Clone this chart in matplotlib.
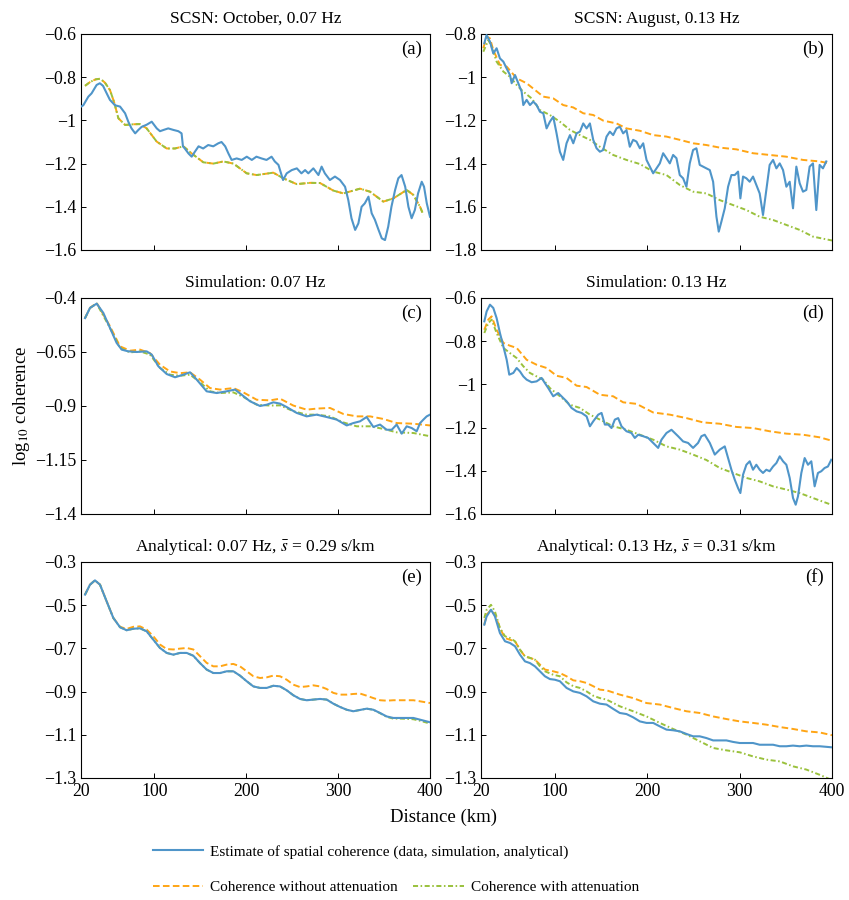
import numpy as np
import matplotlib
matplotlib.use('Agg')
import matplotlib.pyplot as plt
from matplotlib.lines import Line2D
from matplotlib.ticker import FuncFormatter

plt.rcParams['font.family'] = ['Liberation Serif', 'DejaVu Serif']
plt.rcParams['mathtext.fontset'] = 'stix'
plt.rcParams['font.size'] = 11

BLUE = '#4f95c9'
ORANGE = '#ffa514'
GREEN = '#9ac13c'

# ---- (a) SCSN October 0.07 Hz
a_km = [20, 22.5, 28, 31.5, 37, 40.5, 44, 48, 51.5, 57, 62.5, 68, 71.5, 75, 79, 82.5, 86, 91.5, 97, 102.5,
        106, 110, 115, 120.5, 126, 129.5, 131, 133, 137, 140.5, 144, 148, 153, 158.5, 164, 169.5, 173, 177, 180.5, 184,
        189.5, 195, 200.5, 206, 211, 216.5, 222, 227.5, 231, 235, 240, 244, 249.5, 255, 260, 264, 267.5, 273, 278.5, 282,
        285.5, 291, 296.5, 302, 307.5, 311, 314.5, 318.5, 322, 325.5, 329, 333, 336.5, 340, 344, 347.5, 351, 354.5, 358, 362,
        365.5, 369, 373, 376.5, 380, 383.5, 387, 391, 393.5, 396.5, 400]
a_est = [-0.936, -0.93, -0.89, -0.875, -0.836, -0.828, -0.84, -0.875, -0.905, -0.93,
         -0.936, -0.967, -1.006, -1.037, -1.06, -1.044, -1.03, -1.02, -1.006, -1.037,
         -1.05, -1.044, -1.037, -1.044, -1.05, -1.06, -1.12, -1.13, -1.153, -1.168,
         -1.145, -1.12, -1.13, -1.114, -1.12, -1.106, -1.10, -1.12, -1.153, -1.183,
         -1.176, -1.183, -1.168, -1.183, -1.168, -1.176, -1.183, -1.168, -1.19, -1.206,
         -1.276, -1.245, -1.23, -1.222, -1.245, -1.23, -1.245, -1.222, -1.253, -1.214,
         -1.245, -1.276, -1.26, -1.276, -1.307, -1.368, -1.453, -1.507, -1.477, -1.40,
         -1.384, -1.353, -1.43, -1.46, -1.507, -1.546, -1.554, -1.492, -1.40, -1.322,
         -1.268, -1.253, -1.307, -1.40, -1.453, -1.415, -1.338, -1.284, -1.307, -1.384, -1.446]
# both model curves coincide in (a)
a_mkm = [24.4, 30, 36, 41, 46, 51.6, 56, 60.7, 68, 77, 84.2, 91.5, 102.4, 113.3, 122.4, 131.4, 140.5, 153.2, 164.1, 175,
         186, 200.4, 211.3, 229.4, 240.3, 254.8, 269.4, 280.3, 294.8, 305.7, 323.8, 334.7, 349.2, 360.1, 374.6, 381.9, 389.2, 392.8]
a_model = [-0.84, -0.822, -0.81, -0.807, -0.825, -0.86, -0.915, -0.99, -1.021, -1.018, -1.017, -1.037, -1.098, -1.13, -1.13, -1.12, -1.153, -1.194, -1.20, -1.19,
           -1.20, -1.245, -1.253, -1.242, -1.268, -1.295, -1.289, -1.29, -1.325, -1.338, -1.316, -1.33, -1.376, -1.361, -1.322, -1.345, -1.40, -1.438]

# ---- (b) SCSN August 0.13 Hz
b_km = [23.6, 26, 29.7, 33.3, 36.9, 40.5, 44.2, 47.8, 51.4, 53.2, 56.8, 60.4, 64, 65.8, 69.4, 73, 76.6, 80.2, 83.8, 87.4,
        91, 94.6, 98.2, 101.8, 105.4, 109, 112.6, 116.3, 119.9, 123.5, 127.1, 130.7, 134.3, 137.9, 141.5, 145.1, 148.7, 152.3, 155.9, 159.5,
        163.1, 166.7, 170.3, 173.9, 177.5, 181.1, 184.7, 188.3, 192, 195.6, 199.2, 202.8, 206.4, 210, 213.6, 217.2, 220.8, 224.4, 228, 231.6,
        235.2, 238.8, 242.4, 246, 249.6, 253.2, 256.8, 260.4, 264, 267.7, 271.3, 274.9, 277.4, 280.3, 283.9, 287.5, 291.1, 294.7, 298.3, 300.8,
        303.7, 307.3, 310.9, 314.5, 318.1, 321.7, 325.3, 328.9, 332.5, 336.2, 339.8, 343.4, 347, 350.6, 354.2, 357.8, 361.4, 365, 368.6, 372.2,
        375.8, 379.4, 383, 386.6, 390.2, 393.8]
b_est = [-0.843, -0.805, -0.835, -0.89, -0.866, -0.913, -0.928, -0.96, -0.99, -1.028,
         -0.99, -1.028, -1.067, -1.129, -1.105, -1.129, -1.113, -1.129, -1.16, -1.167,
         -1.237, -1.206, -1.183, -1.26, -1.345, -1.383, -1.306, -1.268, -1.306, -1.26,
         -1.252, -1.214, -1.237, -1.214, -1.29, -1.329, -1.345, -1.337, -1.275, -1.252,
         -1.268, -1.237, -1.229, -1.26, -1.245, -1.322, -1.29, -1.298, -1.329, -1.306,
         -1.383, -1.414, -1.445, -1.422, -1.399, -1.352, -1.375, -1.399, -1.36, -1.375,
         -1.453, -1.468, -1.507, -1.399, -1.337, -1.329, -1.406, -1.414, -1.422, -1.43,
         -1.484, -1.646, -1.715, -1.668, -1.607, -1.507, -1.453, -1.453, -1.437, -1.561,
         -1.46, -1.468, -1.484, -1.46, -1.499, -1.538, -1.638, -1.522, -1.406, -1.383,
         -1.422, -1.399, -1.43, -1.507, -1.484, -1.607, -1.414, -1.491, -1.53, -1.522,
         -1.414, -1.399, -1.615, -1.406, -1.422, -1.39]
b_okm = [22.5, 26.1, 29.7, 33.3, 40.5, 47.8, 58.6, 69.4, 78.4, 87.4, 98.2, 109, 119.9, 130.7, 141.5, 152.3, 166.7, 177.5, 192, 206.4,
         220.8, 235.2, 249.6, 264, 278.5, 296.5, 314.5, 332.5, 350.6, 368.6, 386.6, 397.4]
b_noatt = [-0.866, -0.812, -0.82, -0.874, -0.943, -0.951, -1.005, -1.028, -1.059, -1.09, -1.098, -1.129, -1.14, -1.167, -1.175, -1.201, -1.214, -1.237, -1.248, -1.268,
           -1.275, -1.29, -1.306, -1.314, -1.326, -1.334, -1.352, -1.36, -1.368, -1.383, -1.39, -1.399]
b_gkm = [22.5, 28, 31.5, 36.9, 44.2, 51.4, 58.6, 65.8, 74.8, 83.8, 94.6, 105.4, 116.3, 127.1, 137.9, 148.7, 163.1, 177.5, 192, 206.4,
         220.8, 235.2, 249.6, 264, 278.5, 292.9, 307.3, 321.7, 336.2, 350.6, 365, 379.4, 400]
b_att = [-0.882, -0.828, -0.859, -0.928, -0.974, -0.998, -1.036, -1.067, -1.098, -1.152, -1.175, -1.206, -1.244, -1.268, -1.29, -1.322, -1.36, -1.383, -1.402, -1.437,
         -1.453, -1.499, -1.53, -1.538, -1.569, -1.592, -1.615, -1.646, -1.661, -1.684, -1.707, -1.738, -1.756]

# ---- (c) simulation 0.07 Hz
c_km = [24.4, 29.8, 37.1, 44.3, 51.6, 58.8, 64.3, 71.5, 80.6, 91.5, 97, 104.2, 113.3, 122.4, 131.4, 138.7, 146, 156.8, 167.7, 178.6,
        187.7, 195, 204, 214.9, 222.2, 229.4, 236.7, 244, 254.8, 265.7, 276.6, 287.5, 298.4, 309.3, 316.5, 323.8, 331, 338.3, 345.6, 352.8,
        358.3, 363.7, 369.2, 374.6, 380.1, 385.5, 389.2, 392.8, 396.4, 400]
c_est = [-0.493, -0.446, -0.426, -0.469, -0.539, -0.608, -0.639, -0.647, -0.65, -0.647,
         -0.662, -0.716, -0.752, -0.767, -0.755, -0.744, -0.778, -0.832, -0.84, -0.832,
         -0.824, -0.848, -0.878, -0.90, -0.894, -0.883, -0.889, -0.905, -0.932, -0.948,
         -0.94, -0.951, -0.963, -0.99, -0.979, -0.971, -0.951, -0.997, -0.986, -1.01,
         -1.01, -0.986, -1.028, -0.994, -1.002, -1.017, -0.979, -0.963, -0.948, -0.94]
c_mkm = [24.4, 29.8, 37.1, 51.6, 62.5, 73.4, 84.2, 95.1, 106, 116.9, 127.8, 138.7, 149.6, 160.5, 171.4, 185.9, 196.8, 211.3, 225.8, 236.7,
         251.2, 265.7, 276.6, 291.1, 305.7, 320.2, 334.7, 349.2, 363.7, 381.9, 400]
c_noatt = [-0.493, -0.446, -0.423, -0.531, -0.624, -0.644, -0.639, -0.655, -0.709, -0.74, -0.748, -0.744, -0.778, -0.817, -0.824, -0.817, -0.837, -0.871, -0.874, -0.866,
           -0.898, -0.917, -0.912, -0.909, -0.937, -0.948, -0.948, -0.96, -0.979, -0.982, -0.99]
c_att = [-0.493, -0.446, -0.426, -0.539, -0.631, -0.652, -0.647, -0.662, -0.724, -0.755, -0.76, -0.755, -0.79, -0.832, -0.84, -0.837, -0.858, -0.894, -0.898, -0.897,
         -0.924, -0.94, -0.94, -0.948, -0.976, -0.994, -0.994, -1.006, -1.022, -1.025, -1.04]

# ---- (d) simulation 0.13 Hz
d_km = [23.6, 26.1, 29.7, 33.3, 36.9, 40.5, 44.2, 47.8, 50.6, 55, 58.6, 62.2, 65.8, 69.4, 74.8, 80.2, 85.6, 89.2, 92.8, 98.2,
        103.6, 109, 112.6, 118, 123.5, 128.9, 134.3, 137.9, 141.5, 146.9, 150.5, 154.1, 157.7, 161.3, 164.9, 168.5, 172.1, 177.5, 182.9, 186.5,
        190.2, 195.6, 201, 206.4, 211.8, 215.4, 220.8, 226.2, 229.8, 233.4, 238.8, 244.2, 249.6, 255, 258.6, 262.2, 267.7, 273.1, 278.5, 283.9,
        287.5, 291.1, 294.7, 298.3, 300.8, 303.7, 307.3, 310.9, 314.5, 318.1, 321.7, 325.3, 328.9, 332.5, 336.2, 339.8, 343.4, 347, 350.6, 354.2,
        357.8, 360.7, 363.2, 366.8, 370.4, 374, 377.6, 381.2, 384.8, 388.4, 392, 395.6, 399.2]
d_est = [-0.708, -0.662, -0.631, -0.646, -0.693, -0.762, -0.824, -0.886, -0.955, -0.947,
         -0.924, -0.94, -0.963, -0.978, -0.99, -0.986, -0.97, -0.994, -1.017, -1.055,
         -1.04, -1.063, -1.078, -1.109, -1.125, -1.132, -1.148, -1.194, -1.171, -1.14,
         -1.132, -1.186, -1.186, -1.202, -1.163, -1.156, -1.194, -1.217, -1.225, -1.248,
         -1.233, -1.24, -1.248, -1.271, -1.294, -1.256, -1.225, -1.21, -1.225, -1.24,
         -1.264, -1.271, -1.294, -1.271, -1.24, -1.233, -1.271, -1.325, -1.302, -1.287,
         -1.341, -1.395, -1.441, -1.48, -1.503, -1.418, -1.372, -1.356, -1.395, -1.372,
         -1.395, -1.41, -1.395, -1.402, -1.38, -1.364, -1.333, -1.356, -1.372, -1.433,
         -1.526, -1.557, -1.518, -1.41, -1.341, -1.372, -1.356, -1.472, -1.41, -1.402,
         -1.387, -1.38, -1.349]
d_okm = [23.6, 27.9, 31.5, 36.9, 44.2, 51.4, 58.6, 69.4, 80.2, 91, 101.8, 112.6, 123.5, 134.3, 148.7, 163.1, 173.9, 188.3, 206.4, 224.4,
         242.4, 260.4, 278.5, 296.5, 314.5, 332.5, 350.6, 368.6, 386.6, 399.2]
d_noatt = [-0.747, -0.70, -0.685, -0.747, -0.808, -0.821, -0.831, -0.886, -0.909, -0.924, -0.96, -0.97, -1.006, -1.012, -1.048, -1.055, -1.083, -1.09, -1.13, -1.14,
           -1.156, -1.176, -1.182, -1.197, -1.202, -1.217, -1.228, -1.233, -1.245, -1.26]
d_gkm = [23.6, 27.9, 31.5, 36.9, 44.2, 51.4, 58.6, 65.8, 73, 80.2, 87.4, 94.6, 105.4, 116.3, 127.1, 137.9, 148.7, 163.1, 177.5, 192,
         206.4, 220.8, 235.2, 249.6, 264, 278.5, 292.9, 307.3, 321.7, 336.2, 350.6, 365, 379.4, 399.2]
d_att = [-0.762, -0.716, -0.70, -0.762, -0.831, -0.855, -0.878, -0.916, -0.947, -0.963, -0.978, -1.017, -1.055, -1.094, -1.109, -1.14, -1.163, -1.194, -1.21, -1.233,
         -1.256, -1.287, -1.302, -1.325, -1.35, -1.387, -1.41, -1.433, -1.449, -1.472, -1.487, -1.503, -1.526, -1.557]

# ---- (e) analytical 0.07 Hz
e_km = [24.4, 29.8, 35.2, 40.7, 47.9, 55.2, 62.5, 69.7, 77, 84.2, 91.5, 98.8, 106, 113.3, 120.5, 127.8, 135.1, 142.3, 149.6, 156.8,
        164.1, 171.4, 178.6, 185.9, 193.1, 200.4, 207.7, 214.9, 222.2, 229.4, 236.7, 244, 251.2, 258.5, 265.7, 273, 280.3, 287.5, 294.8, 302,
        309.3, 316.5, 323.8, 331.1, 338.3, 345.6, 352.8, 360.1, 367.4, 374.6, 381.9, 389.2, 400]
e_est = [-0.451, -0.405, -0.385, -0.405, -0.482, -0.559, -0.602, -0.616, -0.609, -0.607,
         -0.621, -0.66, -0.698, -0.721, -0.729, -0.721, -0.721, -0.734, -0.768, -0.798,
         -0.814, -0.814, -0.806, -0.806, -0.826, -0.852, -0.876, -0.883, -0.883, -0.873,
         -0.876, -0.894, -0.917, -0.934, -0.94, -0.937, -0.934, -0.937, -0.956, -0.971,
         -0.984, -0.991, -0.985, -0.979, -0.984, -0.999, -1.015, -1.022, -1.022, -1.022,
         -1.022, -1.03, -1.042]
e_att = [-0.451, -0.405, -0.385, -0.405, -0.482, -0.559, -0.602, -0.616, -0.609, -0.607,
         -0.621, -0.66, -0.698, -0.721, -0.729, -0.721, -0.721, -0.734, -0.768, -0.798,
         -0.814, -0.814, -0.806, -0.806, -0.826, -0.852, -0.876, -0.883, -0.883, -0.873,
         -0.876, -0.894, -0.917, -0.934, -0.94, -0.937, -0.934, -0.937, -0.956, -0.971,
         -0.984, -0.991, -0.985, -0.979, -0.984, -1.0, -1.017, -1.025, -1.025, -1.026,
         -1.028, -1.035, -1.048]
e_noatt = [-0.451, -0.405, -0.385, -0.405, -0.482, -0.559, -0.600, -0.610, -0.600, -0.598,
           -0.613, -0.644, -0.682, -0.703, -0.705, -0.701, -0.698, -0.705, -0.736, -0.767,
           -0.783, -0.783, -0.775, -0.772, -0.783, -0.806, -0.829, -0.837, -0.834, -0.826,
           -0.829, -0.845, -0.868, -0.879, -0.876, -0.871, -0.876, -0.888, -0.906, -0.914,
           -0.914, -0.911, -0.909, -0.919, -0.93, -0.94, -0.942, -0.94, -0.94, -0.94,
           -0.94, -0.945, -0.953]

# ---- (f) analytical 0.13 Hz
f_km = [23.6, 26.1, 30.8, 35.1, 40.5, 46, 51.4, 56.8, 62.2, 67.6, 73, 78.4, 83.8, 89.2, 94.6, 100, 105.4, 112.6, 119.9, 127.1,
        134.3, 141.5, 148.7, 155.9, 163.1, 170.3, 177.5, 184.7, 192, 199.2, 206.4, 213.6, 220.8, 228, 235.2, 242.4, 249.6, 256.8, 264, 271.3,
        278.5, 285.7, 292.9, 300.1, 307.3, 314.5, 321.7, 328.9, 336.2, 343.4, 350.6, 357.8, 365, 372.2, 379.4, 386.6, 400]
f_est = [-0.59, -0.552, -0.521, -0.552, -0.629, -0.667, -0.675, -0.69, -0.729, -0.76,
         -0.768, -0.783, -0.806, -0.829, -0.842, -0.845, -0.852, -0.883, -0.899, -0.906,
         -0.922, -0.945, -0.956, -0.96, -0.98, -0.999, -1.004, -1.019, -1.038, -1.045,
         -1.045, -1.061, -1.076, -1.079, -1.084, -1.096, -1.107, -1.107, -1.115, -1.126,
         -1.126, -1.126, -1.133, -1.138, -1.138, -1.138, -1.146, -1.146, -1.146, -1.153,
         -1.153, -1.15, -1.153, -1.15, -1.153, -1.153, -1.158]
f_mkm = [23.6, 26.1, 30.8, 35.1, 40.5, 46, 51.4, 56.8, 62.2, 67.6, 73, 78.4, 83.8, 89.2, 98.2, 105.4, 112.6, 119.9, 127.1, 134.3,
         141.5, 148.7, 155.9, 170.3, 184.7, 199.2, 213.6, 228, 242.4, 256.8, 271.3, 285.7, 300.1, 314.5, 328.9, 343.4, 357.8, 372.2, 386.6, 400]
f_noatt = [-0.59, -0.544, -0.521, -0.544, -0.606, -0.652, -0.66, -0.667, -0.706, -0.737,
           -0.744, -0.752, -0.775, -0.798, -0.806, -0.814, -0.829, -0.848, -0.852, -0.86,
           -0.875, -0.891, -0.894, -0.914, -0.93, -0.953, -0.96, -0.976, -0.991, -0.999,
           -1.015, -1.027, -1.038, -1.045, -1.053, -1.064, -1.073, -1.084, -1.089, -1.102]
f_att = [-0.559, -0.521, -0.498, -0.529, -0.606, -0.644, -0.652, -0.667, -0.706, -0.737,
         -0.744, -0.752, -0.783, -0.806, -0.822, -0.829, -0.857, -0.875, -0.883, -0.899,
         -0.919, -0.93, -0.937, -0.968, -0.991, -1.015, -1.045, -1.073, -1.099, -1.13,
         -1.161, -1.172, -1.181, -1.2, -1.215, -1.223, -1.246, -1.261, -1.285, -1.31]

titles = ['SCSN: October, 0.07 Hz', 'SCSN: August, 0.13 Hz',
          'Simulation: 0.07 Hz', 'Simulation: 0.13 Hz',
          r'Analytical: 0.07 Hz, $\bar{s}$ = 0.29 s/km', r'Analytical: 0.13 Hz, $\bar{s}$ = 0.31 s/km']
tags = ['(a)', '(b)', '(c)', '(d)', '(e)', '(f)']
yticks = [[-1.6, -1.4, -1.2, -1.0, -0.8, -0.6],
          [-1.8, -1.6, -1.4, -1.2, -1.0, -0.8],
          [-1.4, -1.15, -0.9, -0.65, -0.4],
          [-1.6, -1.4, -1.2, -1.0, -0.8, -0.6],
          [-1.3, -1.1, -0.9, -0.7, -0.5, -0.3],
          [-1.3, -1.1, -0.9, -0.7, -0.5, -0.3]]
xticks = [20, 100, 200, 300, 400]

est = [(a_km, a_est), (b_km, b_est), (c_km, c_est), (d_km, d_est), (e_km, e_est), (f_km, f_est)]
noatt = [(a_mkm, a_model), (b_okm, b_noatt), (c_mkm, c_noatt), (d_okm, d_noatt), (e_km, e_noatt), (f_mkm, f_noatt)]
att = [(a_mkm, a_model), (b_gkm, b_att), (c_mkm, c_att), (d_gkm, d_att), (e_km, e_att), (f_mkm, f_att)]

W, H = 849, 900
lefts = [81, 481]
widths = [349, 351]
tops = [34, 298, 562]
ah = 216

dash_o = (0, (3.4, 1.7))
dash_g = (0, (2.6, 1.3, 0.8, 1.3))
fmt = FuncFormatter(lambda v, p: ('%g' % v).replace('-', '\u2212'))

fig = plt.figure(figsize=(W / 100, H / 100), dpi=100)
for i in range(6):
    r, c = divmod(i, 2)
    ax = fig.add_axes([lefts[c] / W, 1 - (tops[r] + ah) / H, widths[c] / W, ah / H])
    ax.plot(*est[i], color=BLUE, lw=1.5, zorder=3)
    ax.plot(*noatt[i], color=ORANGE, lw=1.4, ls=dash_o, zorder=2)
    ax.plot(*att[i], color=GREEN, lw=1.4, ls=dash_g, zorder=2.5)
    ax.set_xlim(20, 400)
    ax.set_ylim(yticks[i][0], yticks[i][-1])
    ax.set_xticks(xticks)
    ax.set_yticks(yticks[i])
    ax.yaxis.set_major_formatter(fmt)
    ax.tick_params(direction='in', length=3.5, width=0.7, labelsize=12.8, pad=3.5,
                   top=False, right=False)
    if r < 2:
        ax.tick_params(labelbottom=False)
    for s in ax.spines.values():
        s.set_linewidth(0.8)
    ax.set_title(titles[i], fontsize=12.5, pad=8)
    ax.text(0.977, 0.97, tags[i], transform=ax.transAxes, ha='right', va='top', fontsize=13.5)

fig.text(22 / W, 1 - 406 / H, r'log$_{10}$ coherence', rotation=90, ha='center', va='center', fontsize=13.5)
fig.text(443 / W, 1 - 817 / H, 'Distance (km)', ha='center', va='center', fontsize=13.5)

h1 = [Line2D([], [], color=BLUE, lw=1.5)]
fig.legend(h1, ['Estimate of spatial coherence (data, simulation, analytical)'],
           loc='center left', bbox_to_anchor=(153 / W, 1 - 852 / H), frameon=False,
           borderpad=0, borderaxespad=0, handlelength=3.3, handletextpad=0.45, fontsize=11)
h2 = [Line2D([], [], color=ORANGE, lw=1.4, ls=dash_o), Line2D([], [], color=GREEN, lw=1.4, ls=dash_g)]
fig.legend(h2, ['Coherence without attenuation', 'Coherence with attenuation'],
           loc='center left', bbox_to_anchor=(153 / W, 1 - 887 / H), frameon=False, ncol=2,
           borderpad=0, borderaxespad=0, handlelength=3.3, handletextpad=0.45, columnspacing=1.0, fontsize=11)

fig.savefig('out.png', dpi=100)
